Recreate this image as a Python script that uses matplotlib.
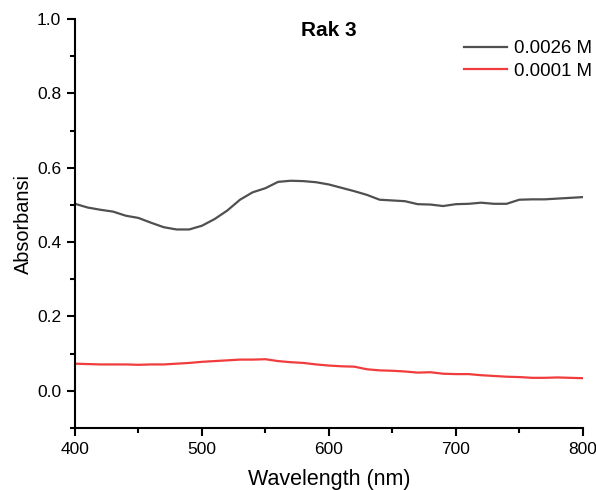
import matplotlib.pyplot as plt
import numpy as np
from matplotlib.ticker import MultipleLocator

plt.rcParams['font.family'] = ['Liberation Sans', 'DejaVu Sans']

wl = [400, 410, 420, 430, 440, 450, 460, 470, 480, 490, 500, 510, 520, 530, 540,
      550, 560, 570, 580, 590, 600, 610, 620, 630, 640, 650, 660, 670, 680, 690,
      700, 710, 720, 730, 740, 750, 760, 770, 780, 790, 800]
abs_0026 = [0.503, 0.493, 0.487, 0.482, 0.471, 0.465, 0.452, 0.440, 0.434, 0.434,
            0.444, 0.462, 0.485, 0.514, 0.534, 0.545, 0.562, 0.565, 0.564, 0.561,
            0.555, 0.546, 0.537, 0.527, 0.514, 0.512, 0.510, 0.502, 0.501, 0.497,
            0.502, 0.503, 0.506, 0.503, 0.503, 0.514, 0.515, 0.515, 0.517, 0.519,
            0.521]
abs_0001 = [0.073, 0.072, 0.071, 0.071, 0.071, 0.070, 0.071, 0.071, 0.073, 0.075,
            0.078, 0.080, 0.082, 0.084, 0.084, 0.085, 0.080, 0.077, 0.075, 0.071,
            0.068, 0.066, 0.065, 0.058, 0.055, 0.054, 0.052, 0.049, 0.050, 0.046,
            0.045, 0.045, 0.042, 0.040, 0.038, 0.037, 0.035, 0.035, 0.036, 0.035,
            0.034]

fig = plt.figure(figsize=(5.96, 4.90), dpi=100)
ax = fig.add_axes([0.1258, 0.1265, 0.852, 0.8347])

ax.plot(wl, abs_0026, color='#505050', lw=1.6, label='0.0026 M')
ax.plot(wl, abs_0001, color='#f03c3c', lw=1.6, label='0.0001 M')

ax.set_xlim(400, 800)
ax.set_ylim(-0.1, 1.0)
ax.xaxis.set_major_locator(MultipleLocator(100))
ax.xaxis.set_minor_locator(MultipleLocator(50))
ax.yaxis.set_major_locator(MultipleLocator(0.2))
ax.yaxis.set_minor_locator(MultipleLocator(0.1))
ax.yaxis.set_major_formatter(plt.FuncFormatter(lambda v, p: '%.1f' % v))

for s in ['top', 'right']:
    ax.spines[s].set_visible(False)
for s in ['left', 'bottom']:
    ax.spines[s].set_linewidth(1.5)
ax.tick_params(which='major', direction='out', length=6, width=1.5, labelsize=12.5, colors='black')
ax.tick_params(which='minor', direction='out', length=3.5, width=1.5)
ax.tick_params(axis='x', pad=4)
ax.tick_params(axis='y', pad=4)

ax.set_xlabel('Wavelength (nm)', fontsize=15.5, labelpad=9)
ax.set_ylabel('Absorbansi', fontsize=14.3, labelpad=3)
ax.set_title('Rak 3', fontsize=15, fontweight='bold', pad=-12, y=1.0)

ax.legend(loc='upper right', frameon=False, fontsize=13.4, handlelength=2.3,
          handletextpad=0.35, labelspacing=0.3, borderpad=0.3,
          bbox_to_anchor=(1.047, 0.985))

fig.savefig('out.png', dpi=100)
